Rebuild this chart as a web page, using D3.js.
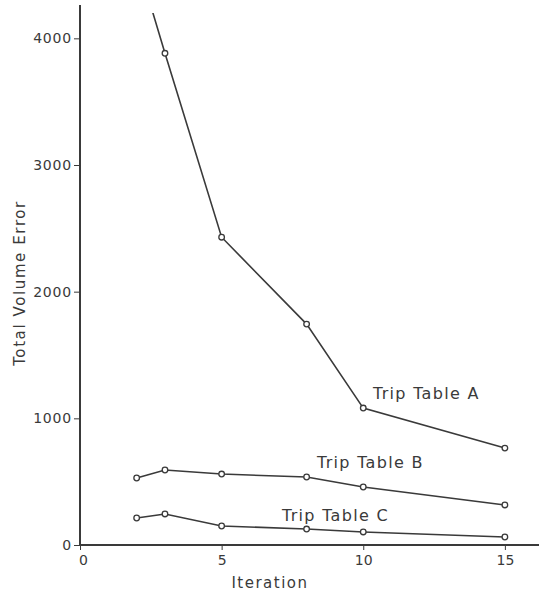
<!DOCTYPE html>
<html><head><meta charset="utf-8">
<script src="https://cdn.jsdelivr.net/npm/d3@7"></script>
<style>body{margin:0;background:#fff}svg{display:block}text{font-family:"DejaVu Sans",sans-serif;fill:#3a3a3a}</style>
</head><body>
<svg id="c" width="539" height="592"></svg>
<script>
const iterations = [2, 3, 5, 8, 10, 15];
const tripA = [4630, 3882, 2430, 1744, 1081, 765];
const tripB = [529, 592, 560, 537, 458, 316];
const tripC = [213, 245, 150, 126, 103, 63];
const seriesNames = ["Trip Table A", "Trip Table B", "Trip Table C"];
const xTicks = [0, 5, 10, 15];
const yTicks = [0, 1000, 2000, 3000, 4000];

const svg = d3.select("#c");
const x = d3.scaleLinear().domain([0, 16.24]).range([80, 540]);
const y = d3.scaleLinear().domain([0, 4200]).range([545, 13]);
const ink = "#3a3a3a";

svg.append("defs").append("clipPath").attr("id","clip")
  .append("rect").attr("x",80).attr("y",13).attr("width",460).attr("height",540);

// axes
const yAxis = svg.append("g").attr("transform","translate(80,0)")
  .call(d3.axisLeft(y).tickValues(yTicks).tickSize(6).tickPadding(2).tickFormat(d3.format("d")));
yAxis.select(".domain").remove();
yAxis.selectAll("line").attr("stroke", ink).attr("stroke-width",1);
yAxis.selectAll("text").style("font-size","14px").style("letter-spacing","0.8px");
svg.append("line").attr("x1",80).attr("x2",80).attr("y1",5).attr("y2",546)
  .attr("stroke",ink).attr("stroke-width",2);

const xAxis = svg.append("g").attr("transform","translate(0,545)")
  .call(d3.axisBottom(x).tickValues(xTicks).tickSize(5).tickPadding(5));
xAxis.select(".domain").remove();
xAxis.selectAll("line").attr("stroke", ink).attr("stroke-width",1);
xAxis.selectAll("text").style("font-size","14px").attr("dx", d => d===0 ? 3 : 0);
svg.append("line").attr("x1",79).attr("x2",539).attr("y1",545).attr("y2",545)
  .attr("stroke",ink).attr("stroke-width",2);

// titles
svg.append("text").attr("x",270).attr("y",588).attr("text-anchor","middle")
  .style("font-size","15px").style("letter-spacing","1.5px").text("Iteration");
svg.append("text").attr("transform","translate(25,283) rotate(-90)").attr("text-anchor","middle")
  .style("font-size","15px").style("letter-spacing","1.6px").text("Total Volume Error");

// series
const series = [tripA, tripB, tripC];
const line = d3.line().x((d,i)=>x(iterations[i])).y(d=>y(d));
const g = svg.append("g").attr("clip-path","url(#clip)");
series.forEach((vals, si) => {
  g.append("path").attr("d", line(vals)).attr("fill","none")
    .attr("stroke", ink).attr("stroke-width",1.6);
  g.selectAll(null).data(vals.map((v,i)=>({v,i})).filter(d=>d.v<=4200)).enter()
    .append("circle").attr("cx",d=>x(iterations[d.i])).attr("cy",d=>y(d.v)).attr("r",2.8)
    .attr("fill","#fff").attr("stroke",ink).attr("stroke-width",1.3);
});

// labels
const labelPos = [[373,399],[317,468],[282,521]];
seriesNames.forEach((n,i)=>{
  svg.append("text").attr("x",labelPos[i][0]).attr("y",labelPos[i][1])
    .style("font-size","16px").style("letter-spacing","1.3px").text(n);
});
</script>
</body></html>
